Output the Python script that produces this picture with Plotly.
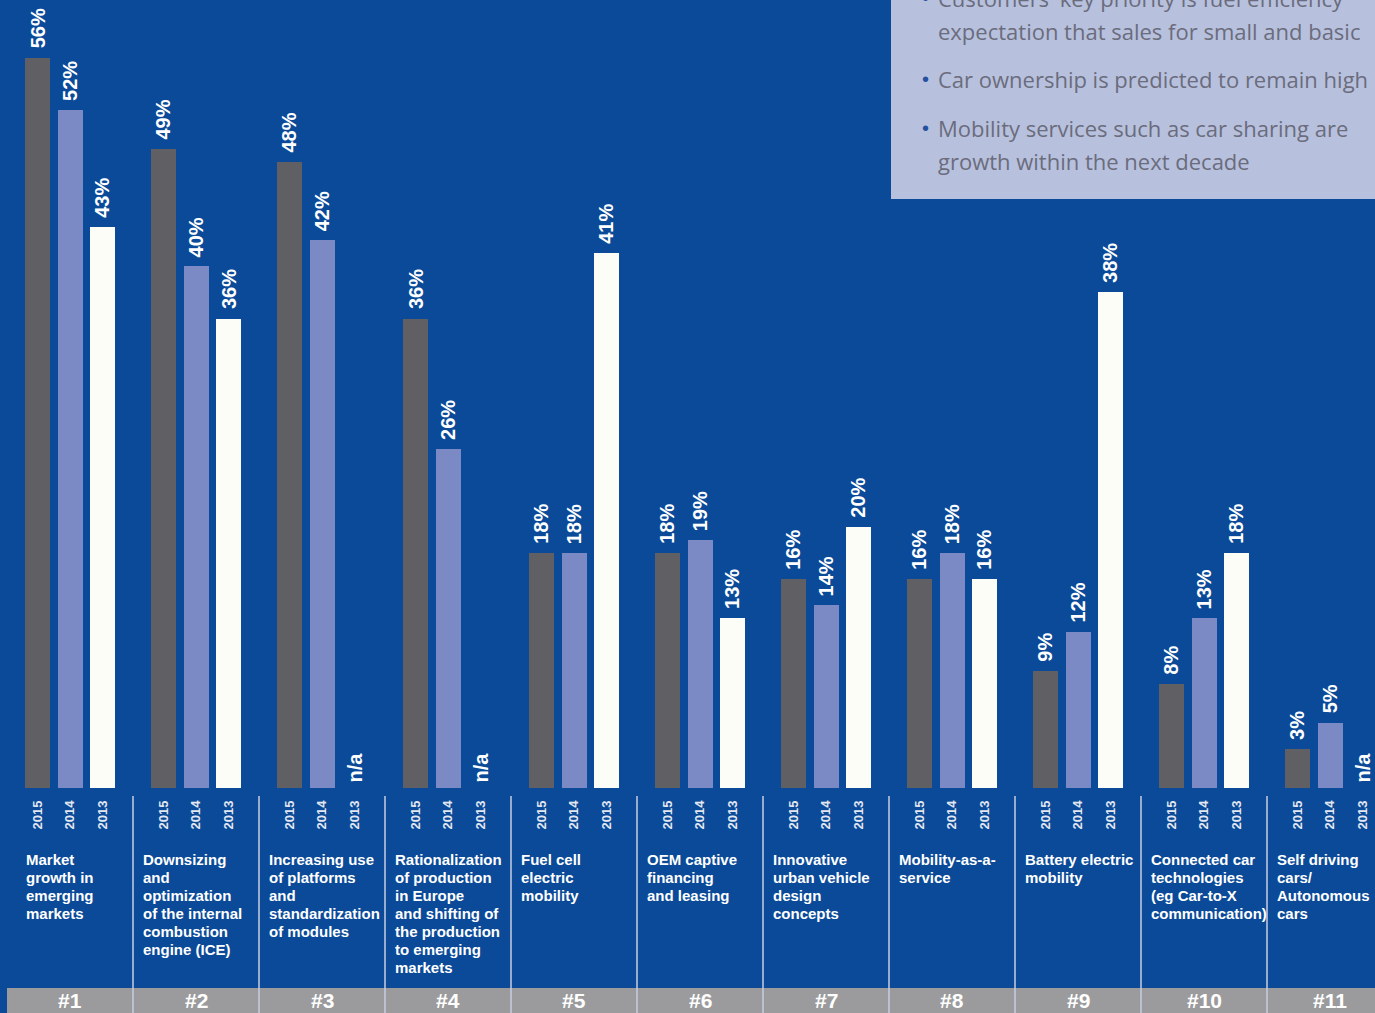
import plotly.graph_objects as go

# ---------------- data ----------------
categories = [
    "Market<br>growth in<br>emerging<br>markets",
    "Downsizing<br>and<br>optimization<br>of the internal<br>combustion<br>engine (ICE)",
    "Increasing use<br>of platforms<br>and<br>standardization<br>of modules",
    "Rationalization<br>of production<br>in Europe<br>and shifting of<br>the production<br>to emerging<br>markets",
    "Fuel cell<br>electric<br>mobility",
    "OEM captive<br>financing<br>and leasing",
    "Innovative<br>urban vehicle<br>design<br>concepts",
    "Mobility-as-a-<br>service",
    "Battery electric<br>mobility",
    "Connected car<br>technologies<br>(eg Car-to-X<br>communication)",
    "Self driving<br>cars/<br>Autonomous<br>cars",
]
ranks = ["#1", "#2", "#3", "#4", "#5", "#6", "#7", "#8", "#9", "#10", "#11"]
years = ["2015", "2014", "2013"]
v2015 = [56, 49, 48, 36, 18, 18, 16, 16, 9, 8, 3]
v2014 = [52, 40, 42, 26, 18, 19, 14, 18, 12, 13, 5]
v2013 = [43, 36, None, None, 41, 13, 20, 16, 38, 18, None]

box_lines = [
    ("bullet", "Customers' key priority is fuel efficiency"),
    ("cont", "expectation that sales for small and basic"),
    ("bullet", "Car ownership is predicted to remain high"),
    ("bullet", "Mobility services such as car sharing are"),
    ("cont", "growth within the next decade"),
]

# ---------------- style ----------------
W, H = 1375, 1013
BG = "#0a4a98"
COLORS = ["#606064", "#7b8ac5", "#fdfdf7"]
GROUP_PX = 126.0
OFF = 32.5 / GROUP_PX
BAR_W = 25 / GROUP_PX
BASE_PX = 788
PX_PER_PCT = 13.04
FONT = "Liberation Sans, Arial, sans-serif"

def py(p):
    return 1 - p / H

n = len(categories)
series = [v2015, v2014, v2013]

fig = go.Figure()
annotations = []
tickvals, ticktext = [], []

for j, (yr, vals, col) in enumerate(zip(years, series, COLORS)):
    xs = [i + (j - 1) * OFF for i in range(n)]
    ys = [v if v is not None else 0 for v in vals]
    fig.add_bar(x=xs, y=ys, width=BAR_W, marker_color=col,
                marker_line_width=0, name=yr, hoverinfo="skip")
    tickvals += xs
    ticktext += [yr] * n
    for x, v in zip(xs, vals):
        if v is None:
            annotations.append(dict(x=x, y=0, xref="x", yref="y", text="<b>n/a</b>",
                                    showarrow=False, textangle=-90, yanchor="bottom",
                                    xanchor="center", yshift=3,
                                    font=dict(family=FONT, size=20, color="white")))
        else:
            annotations.append(dict(x=x, y=v, xref="x", yref="y", text=f"<b>{v}%</b>",
                                    showarrow=False, textangle=-90, yanchor="bottom",
                                    xanchor="center", yshift=7,
                                    font=dict(family=FONT, size=20, color="white")))

shapes = []
# bottom gray strip
shapes.append(dict(type="rect", xref="x", yref="paper", x0=-0.5, x1=n + 1,
                   y0=-0.01, y1=py(988), fillcolor="#9b9b9d", line_width=0, layer="above"))
# separators
for i in range(n):
    shapes.append(dict(type="line", xref="x", yref="paper", x0=i + 0.5, x1=i + 0.5,
                       y0=0, y1=py(796), line=dict(color="#c7cee0", width=1.5), layer="above"))
# info box
shapes.append(dict(type="rect", xref="paper", yref="paper", x0=891 / W, x1=1.02,
                   y0=py(199), y1=1.02, fillcolor="#b7c1de", line_width=0, layer="below"))

for i, (cat, rk) in enumerate(zip(categories, ranks)):
    for k, line in enumerate(cat.split("<br>")):
        annotations.append(dict(x=i - 0.5, y=py(859 + 18 * k), xref="x", yref="paper",
                                text=f"<b>{line}</b>", showarrow=False, xanchor="left",
                                yanchor="middle", align="left",
                                xshift=17 if i == 0 else 8,
                                font=dict(family=FONT, size=15, color="white")))
    annotations.append(dict(x=i, y=py(1000), xref="x", yref="paper", text=f"<b>{rk}</b>",
                            showarrow=False, xanchor="center", yanchor="middle",
                            font=dict(family=FONT, size=21, color="white")))

line_y = [-2, 31, 79, 128, 161]
for (kind, txt), ly in zip(box_lines, line_y):
    annotations.append(dict(x=936 / W, y=py(ly), xref="paper", yref="paper", text=txt,
                            showarrow=False, xanchor="left", yanchor="middle",
                            font=dict(family="Open Sans, sans-serif", size=22, color="#6b6c7c")))
    if kind == "bullet":
        annotations.append(dict(x=920 / W, y=py(ly), xref="paper", yref="paper", text="•",
                                showarrow=False, xanchor="left", yanchor="middle",
                                font=dict(family=FONT, size=20, color="#24509e")))

fig.update_layout(
    width=W, height=H, margin=dict(l=0, r=0, t=0, b=0),
    paper_bgcolor=BG, plot_bgcolor=BG, showlegend=False,
    bargap=0, barmode="overlay",
    xaxis=dict(range=[-0.5 - 7 / GROUP_PX, -0.5 - 7 / GROUP_PX + W / GROUP_PX],
               domain=[0, 1], tickvals=tickvals, ticktext=ticktext, tickangle=-90,
               tickfont=dict(family=FONT, size=13, color="#e3e7f1", weight="bold"),
               ticklabelstandoff=9, showgrid=False, zeroline=False, showline=False,
               ticks="", fixedrange=True),
    yaxis=dict(domain=[py(BASE_PX), 1], range=[0, BASE_PX / PX_PER_PCT],
               showgrid=False, zeroline=False, showline=False, showticklabels=False,
               ticks="", fixedrange=True),
    shapes=shapes, annotations=annotations,
)

fig.write_html("out.html", config={"displayModeBar": False},
               post_script="document.body.style.margin='0';document.body.style.overflow='hidden';")
